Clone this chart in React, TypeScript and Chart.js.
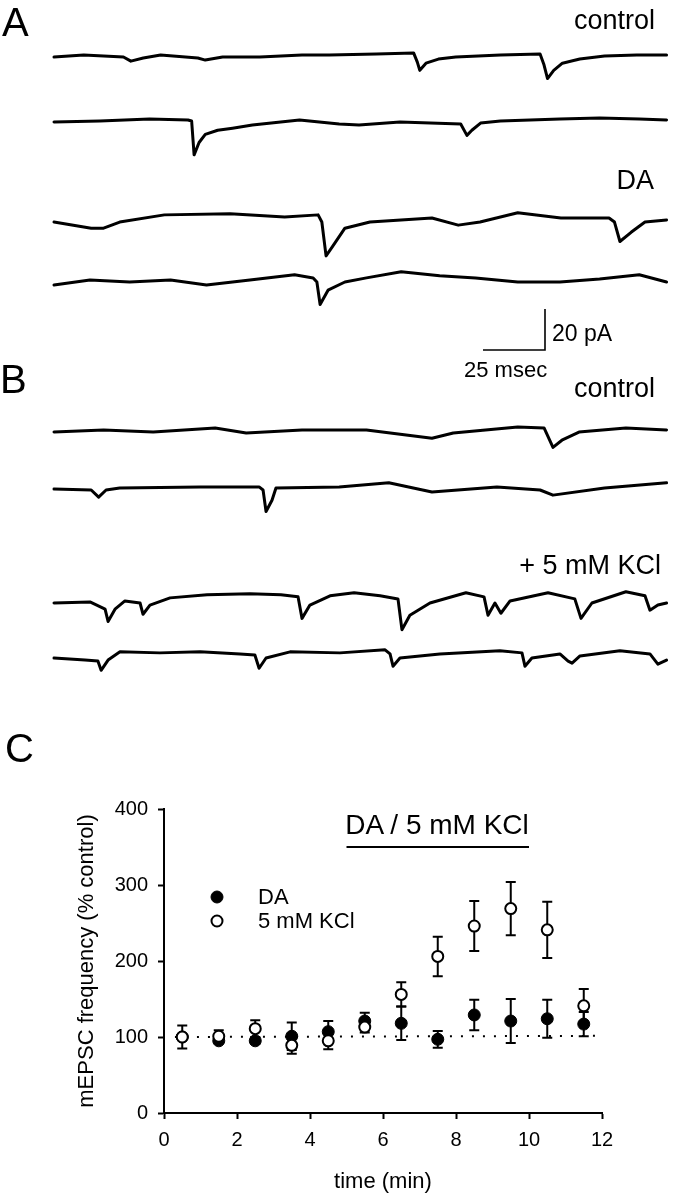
import React, { useEffect, useRef } from "react";
import { Chart, registerables } from "chart.js";

Chart.register(...registerables);

// ---------------- Panel C data ----------------
const timeMin = [0.5, 1.5, 2.5, 3.5, 4.5, 5.5, 6.5, 7.5, 8.5, 9.5, 10.5, 11.5];
const daMean = [100, 95, 95, 101, 107, 121, 118, 97, 129, 121, 124, 117];
const daSem = [3, 3, 4, 18, 14, 11, 22, 11, 20, 29, 25, 16];
const kclMean = [100, 101, 111, 89, 95, 113, 156, 206, 246, 269, 241, 141];
const kclSem = [15, 8, 11, 11, 11, 7, 16, 26, 33, 35, 37, 22];
const xTickValues = [0, 2, 4, 6, 8, 10, 12];
const yTickValues = [0, 100, 200, 300, 400];
const drugPeriod = [5, 10];
const drugBarLevel = 350;
const controlLineX = [0.3, 11.85];
const controlLineY = [100, 101.5];

// ---------------- Panel A / B traces: [ms, pA] ----------------
const traceA1 = [[0,-0.5],[12,0.5],[28,-0.5],[31,-2.5],[36,-1],[43,0.5],[58,-1],[61,-2],[68,-0.5],[83,-0.5],[100,0.5],[111,0.5],[130,1],[145,1.5],[146.5,-3],[147.5,-7],[150,-3.5],[155,-1.5],[162,-0.5],[180,0.5],[196,1],[197.5,-4],[199,-11],[201.5,-7],[205,-3.5],[212,-1.5],[222,0],[235,0.5],[247,0.5]];
const traceA2 = [[0,-0.5],[18.5,0],[38.5,1],[54,0.5],[55.5,0],[56.5,-16.5],[58.5,-10.5],[61,-6.5],[66,-4.5],[72,-3.5],[80,-2],[99,0.5],[115,-1.5],[123,-2],[139.5,-0.5],[164,-1.5],[166.5,-7],[168.5,-4.5],[172,-1],[180,0],[204,1],[220,1.5],[236,1],[247,0.5]];
const traceA3 = [[0,-1],[15,-4],[20,-4],[26.5,-1],[44.5,2.5],[71,3],[93,1.5],[106.5,2.5],[108,-1],[109.7,-17.5],[112,-13.5],[117.3,-4],[127.4,-1],[152.4,1],[163,-2.5],[171.8,-1],[187,3.5],[204.4,1],[223.8,1],[226,-1],[228.2,-10.5],[232.7,-6],[238.3,-1],[247,0]];
const traceA4 = [[0,-1.5],[14.5,1],[30.5,0],[47,1],[61.5,-1.5],[79,1],[97,3.5],[104.5,2],[106,0],[107.3,-11],[110.5,-4],[117.3,0],[126,2],[140,5],[155.5,3],[170,2],[187,0],[204,0],[220,1.5],[236,3.5],[247,0]];
const traceB1 = [[0,-0.5],[20,0.5],[40,-0.5],[65,1.5],[77.5,-1],[100,0.5],[126,0.5],[152.4,-3.5],[161,-1],[187,2],[197.6,1.5],[201.2,-8],[204.8,-4.5],[211.7,-0.5],[230.6,1.5],[247,0.5]];
const traceB2 = [[0,0.5],[15,0],[18,-3.5],[21,0],[26.5,1],[59,1.5],[82.7,1.5],[84.3,0],[85.5,-10.5],[87.9,-5],[89.5,1],[115,1.5],[135,3.5],[152.4,-1],[178.6,1.5],[196,0],[201.2,-2.5],[222,1],[247,3.5]];
const traceB3 = [[0,0],[14.5,0.5],[20.6,-3],[21.8,-9],[24.6,-3],[28.6,1],[34.7,0],[35.9,-5.5],[38.7,-1],[46.8,2.5],[61.7,4],[79,4.5],[91.5,4],[98.4,3],[100,-7.5],[103.2,-1],[111.3,3.5],[121,5],[131.5,3.5],[138.7,2],[140.3,-13],[143.5,-6],[151.6,0],[166.1,5],[173.4,3],[175,-6],[177.8,0],[180.2,-5],[183.9,1],[199.2,5],[210,2],[212.5,-7.5],[216.9,0],[230.6,5.5],[238.3,3.5],[240.3,-3.5],[243.5,-1],[247,0]];
const traceB4 = [[0,0],[12.5,-1],[17.7,-1.5],[19,-6],[21.8,-1],[26.6,3],[42.7,2.5],[58.9,3],[75,2],[81,1.5],[82.7,-5],[85.5,0],[95.2,3],[115.3,2.5],[133.5,4],[135.5,2],[136.7,-4],[139.5,0],[155.6,2],[179.8,3.5],[188.7,2.5],[189.9,-4],[192.7,0],[204,2],[207.3,-1.5],[208.9,-2.5],[212.1,1],[228.2,3.5],[240.3,2],[243.5,-3],[247,-1]];
const scaleBarMs = 25;
const scaleBarPA = 20;

// ---------------- layout (pixels) ----------------
const FONT = '"Liberation Sans", Arial, Helvetica, sans-serif';
const W = 678;
const TR_H = 700;
const PX_PER_MS = 62 / 25;
const PX_PER_PA = 41 / 20;
const TRACE_X0 = 54;
const traces = [traceA1, traceA2, traceA3, traceA4, traceB1, traceB2, traceB3, traceB4];
const traceBaselines = [56, 121, 220, 282, 431, 490, 603, 658];
const scaleBarCorner = [545, 350];

const C_TOP = 760;
const C_H = 440;
const legendMarks = [
  { x: 217, y: 897, filled: true },
  { x: 217, y: 921, filled: false },
];

function TraceChart() {
  const ref = useRef<HTMLCanvasElement | null>(null);
  useEffect(() => {
    if (!ref.current) return;
    const xmin = -TRACE_X0 / PX_PER_MS;
    const xmax = xmin + W / PX_PER_MS;
    const ymin = -TR_H / PX_PER_PA;
    const datasets: any[] = traces.map((tr, k) => ({
      data: tr.map(([t, i]) => ({ x: t, y: i - traceBaselines[k] / PX_PER_PA })),
      showLine: true,
      borderColor: "#000",
      borderWidth: 3,
      pointRadius: 0,
      borderJoinStyle: "round",
      borderCapStyle: "round",
      tension: 0,
    }));
    const tc = (scaleBarCorner[0] - TRACE_X0) / PX_PER_MS;
    const yc = -scaleBarCorner[1] / PX_PER_PA;
    datasets.push({
      data: [
        { x: tc - scaleBarMs, y: yc },
        { x: tc, y: yc },
        { x: tc, y: yc + scaleBarPA },
      ],
      showLine: true,
      borderColor: "#000",
      borderWidth: 1.6,
      pointRadius: 0,
    });
    const chart = new Chart(ref.current, {
      type: "scatter",
      data: { datasets },
      options: {
        animation: false,
        responsive: false,
        events: [],
        layout: { padding: 0 },
        plugins: { legend: { display: false }, tooltip: { enabled: false } },
        scales: {
          x: { type: "linear", display: false, min: xmin, max: xmax },
          y: { type: "linear", display: false, min: ymin, max: 0 },
        },
      },
    });
    return () => chart.destroy();
  }, []);
  return (
    <canvas
      ref={ref}
      width={W}
      height={TR_H}
      style={{ position: "absolute", left: 0, top: 0, width: W, height: TR_H }}
    />
  );
}

function PanelC() {
  const ref = useRef<HTMLCanvasElement | null>(null);
  useEffect(() => {
    if (!ref.current) return;
    const errPlugin = {
      id: "errbars",
      beforeDatasetsDraw(chart: any) {
        const { ctx, scales } = chart;
        const x = scales.x, y = scales.y;
        ctx.save();
        ctx.strokeStyle = "#000";
        ctx.lineWidth = 2;
        const sets = [
          [daMean, daSem],
          [kclMean, kclSem],
        ];
        sets.forEach(([m, s]) => {
          timeMin.forEach((t, i) => {
            if (!s[i]) return;
            const px = x.getPixelForValue(t);
            const top = y.getPixelForValue(m[i] + s[i]);
            const bot = y.getPixelForValue(m[i] - s[i]);
            ctx.beginPath();
            ctx.moveTo(px, top);
            ctx.lineTo(px, bot);
            ctx.moveTo(px - 5, top);
            ctx.lineTo(px + 5, top);
            ctx.moveTo(px - 5, bot);
            ctx.lineTo(px + 5, bot);
            ctx.stroke();
          });
        });
        ctx.restore();
      },
      afterDatasetsDraw(chart: any) {
        const { ctx } = chart;
        ctx.save();
        legendMarks.forEach((m) => {
          ctx.beginPath();
          ctx.arc(m.x, m.y - C_TOP, m.filled ? 6 : 5.5, 0, Math.PI * 2);
          ctx.fillStyle = m.filled ? "#000" : "#fff";
          ctx.fill();
          ctx.lineWidth = m.filled ? 1 : 2;
          ctx.strokeStyle = "#000";
          ctx.stroke();
        });
        ctx.restore();
      },
    };
    const chart = new Chart(ref.current, {
      type: "scatter",
      data: {
        datasets: [
          {
            label: "5 mM KCl",
            data: timeMin.map((t, i) => ({ x: t, y: kclMean[i] })),
            pointRadius: 5.5,
            pointBorderWidth: 2,
            pointBackgroundColor: "#fff",
            pointBorderColor: "#000",
          },
          {
            label: "DA",
            data: timeMin.map((t, i) => ({ x: t, y: daMean[i] })),
            pointRadius: 6,
            pointBorderWidth: 1,
            pointBackgroundColor: "#000",
            pointBorderColor: "#000",
          },
          {
            label: "control",
            data: [
              { x: controlLineX[0], y: controlLineY[0] },
              { x: controlLineX[1], y: controlLineY[1] },
            ],
            showLine: true,
            borderColor: "#000",
            borderWidth: 2,
            borderDash: [2, 9],
            pointRadius: 0,
          },
          {
            label: "drug",
            data: [
              { x: drugPeriod[0], y: drugBarLevel },
              { x: drugPeriod[1], y: drugBarLevel },
            ],
            showLine: true,
            borderColor: "#000",
            borderWidth: 2,
            pointRadius: 0,
          },
        ],
      },
      options: {
        animation: false,
        responsive: false,
        events: [],
        layout: { padding: { top: 49, right: 76, left: 0, bottom: 0 } },
        plugins: { legend: { display: false }, tooltip: { enabled: false } },
        scales: {
          x: {
            type: "linear",
            min: 0,
            max: 12,
            afterBuildTicks: (s: any) => {
              s.ticks = xTickValues.map((v) => ({ value: v }));
            },
            afterFit: (s: any) => {
              s.height = 87;
            },
            ticks: { color: "#000", font: { family: FONT, size: 20 }, padding: 9, maxRotation: 0 },
            grid: { display: true, drawOnChartArea: false, drawTicks: true, tickLength: 6, tickWidth: 2, tickColor: "#000" },
            border: { display: true, color: "#000", width: 2 },
            title: { display: true, text: "time (min)", color: "#000", font: { family: FONT, size: 22 }, padding: { top: 0, bottom: 5 } },
          },
          y: {
            type: "linear",
            min: 0,
            max: 400,
            afterBuildTicks: (s: any) => {
              s.ticks = yTickValues.map((v) => ({ value: v }));
            },
            afterFit: (s: any) => {
              s.width = 164;
            },
            ticks: { color: "#000", font: { family: FONT, size: 20 }, padding: 10 },
            grid: { display: true, drawOnChartArea: false, drawTicks: true, tickLength: 6, tickWidth: 2, tickColor: "#000" },
            border: { display: true, color: "#000", width: 2 },
            title: { display: true, text: "mEPSC frequency (% control)", color: "#000", font: { family: FONT, size: 22 }, padding: { top: 74, bottom: 0 } },
          },
        },
      },
      plugins: [errPlugin],
    });
    return () => chart.destroy();
  }, []);
  return (
    <canvas
      ref={ref}
      width={W}
      height={C_H}
      style={{ position: "absolute", left: 0, top: C_TOP, width: W, height: C_H }}
    />
  );
}

function Label(props: { text: string; top: number; size: number; left?: number; right?: number; center?: number }) {
  const st: any = {
    position: "absolute",
    top: props.top,
    fontSize: props.size,
    lineHeight: 1,
    fontFamily: FONT,
    color: "#000",
    whiteSpace: "nowrap",
  };
  if (props.left !== undefined) st.left = props.left;
  if (props.right !== undefined) {
    st.right = W - props.right;
    st.textAlign = "right";
  }
  if (props.center !== undefined) {
    st.left = props.center;
    st.transform = "translateX(-50%)";
  }
  return <div style={st}>{props.text}</div>;
}

export default function App() {
  return (
    <div style={{ position: "absolute", left: 0, top: 0, width: W, height: 1200, background: "#fff", overflow: "hidden" }}>
      <TraceChart />
      <PanelC />
      <Label text="A" left={2} top={2} size={40} />
      <Label text="B" left={0} top={359} size={40} />
      <Label text="C" left={5} top={728} size={40} />
      <Label text="control" right={655} top={7} size={27} />
      <Label text="DA" right={654} top={167} size={27} />
      <Label text="20 pA" left={552} top={322} size={23} />
      <Label text="25 msec" left={464} top={359} size={22} />
      <Label text="control" right={655} top={375} size={27} />
      <Label text="+ 5 mM KCl" right={661} top={552} size={27} />
      <Label text="DA / 5 mM KCl" center={437} top={811} size={28} />
      <Label text="DA" left={258} top={886} size={22} />
      <Label text="5 mM KCl" left={258} top={910} size={22} />
    </div>
  );
}
